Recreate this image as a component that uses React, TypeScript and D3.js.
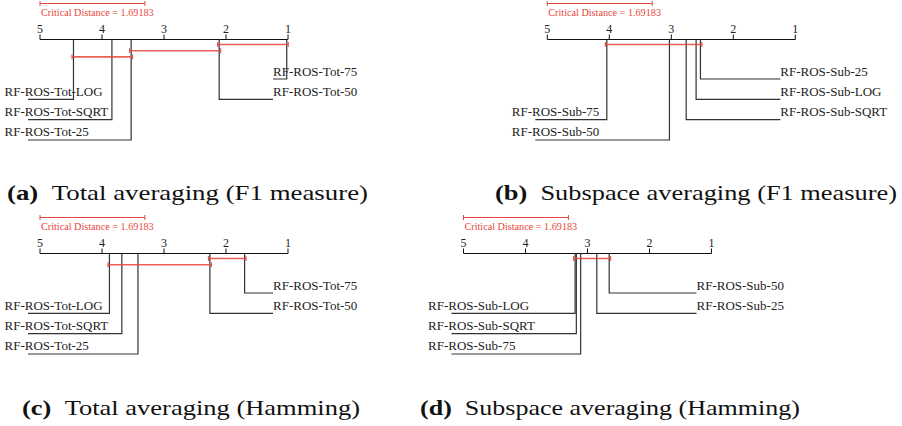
import React, { useEffect, useRef } from 'react';
import * as d3 from 'd3';

// average ranks
const criticalDistance = 1.69183;
const rankTicks = [5, 4, 3, 2, 1];

const namesTotalF1 = ['RF-ROS-Tot-LOG', 'RF-ROS-Tot-SQRT', 'RF-ROS-Tot-25', 'RF-ROS-Tot-50', 'RF-ROS-Tot-75'];
const ranksTotalF1 = [4.46, 3.84, 3.53, 2.11, 1.02];
const cliquesTotalF1 = [[2.11, 1.02], [3.53, 2.11], [4.46, 3.53]];

const namesSubF1 = ['RF-ROS-Sub-75', 'RF-ROS-Sub-50', 'RF-ROS-Sub-SQRT', 'RF-ROS-Sub-LOG', 'RF-ROS-Sub-25'];
const ranksSubF1 = [4.04, 3.03, 2.76, 2.6, 2.53];
const cliquesSubF1 = [[4.04, 2.53]];

const namesTotalHam = ['RF-ROS-Tot-LOG', 'RF-ROS-Tot-SQRT', 'RF-ROS-Tot-25', 'RF-ROS-Tot-50', 'RF-ROS-Tot-75'];
const ranksTotalHam = [3.88, 3.68, 3.42, 2.26, 1.7];
const cliquesTotalHam = [[2.26, 1.7], [3.88, 2.26]];

const namesSubHam = ['RF-ROS-Sub-LOG', 'RF-ROS-Sub-SQRT', 'RF-ROS-Sub-75', 'RF-ROS-Sub-25', 'RF-ROS-Sub-50'];
const ranksSubHam = [3.2, 3.18, 3.11, 2.85, 2.65];
const cliquesSubHam = [[3.2, 2.65]];

const captionLetters = ['(a)', '(b)', '(c)', '(d)'];
const captionTexts = [
  'Total averaging (F1 measure)',
  'Subspace averaging (F1 measure)',
  'Total averaging (Hamming)',
  'Subspace averaging (Hamming)',
];

const RED = '#e8463c';
const SERIF = 'Liberation Serif, Times New Roman, Times, serif';

export default function App() {
  const svgRef = useRef<SVGSVGElement | null>(null);

  useEffect(() => {
    if (!svgRef.current) return;
    const svg = d3.select(svgRef.current);
    svg.selectAll('*').remove();
    svg.attr('width', 902).attr('height', 426).attr('font-family', SERIF);

    const panels = [
      { names: namesTotalF1, ranks: ranksTotalF1, cliques: cliquesTotalF1, x0: 40, y0: 0, capX: 7, capY: 200, capW: 361 },
      { names: namesSubF1, ranks: ranksSubF1, cliques: cliquesSubF1, x0: 547.3, y0: 0, capX: 495, capY: 200, capW: 402 },
      { names: namesTotalHam, ranks: ranksTotalHam, cliques: cliquesTotalHam, x0: 40, y0: 214, capX: 22, capY: 415, capW: 338 },
      { names: namesSubHam, ranks: ranksSubHam, cliques: cliquesSubHam, x0: 463.5, y0: 214, capX: 420, capY: 415, capW: 380 },
    ];

    panels.forEach((p, pi) => {
      const x = d3.scaleLinear().domain([5, 1]).range([0, 248]);
      const axisY = 39.5;
      const g = svg.append('g').attr('transform', `translate(${p.x0},${p.y0})`);

      // critical distance bar
      const cdY = 3.5;
      g.append('line')
        .attr('x1', x(5)).attr('x2', x(5 - criticalDistance))
        .attr('y1', cdY).attr('y2', cdY)
        .attr('stroke', RED).attr('stroke-width', 1);
      [5, 5 - criticalDistance].forEach(v => {
        g.append('line')
          .attr('x1', x(v)).attr('x2', x(v))
          .attr('y1', cdY - 2.5).attr('y2', cdY + 2.5)
          .attr('stroke', RED).attr('stroke-width', 1);
      });
      g.append('text')
        .attr('x', x(5) + 1).attr('y', 16)
        .attr('font-family', SERIF).attr('font-size', 10.2)
        .attr('fill', RED)
        .text(`Critical Distance = ${criticalDistance}`);

      // axis
      g.append('line')
        .attr('x1', x(5)).attr('x2', x(1))
        .attr('y1', axisY).attr('y2', axisY)
        .attr('stroke', '#111').attr('stroke-width', 1.2);
      rankTicks.forEach(t => {
        g.append('line')
          .attr('x1', x(t)).attr('x2', x(t))
          .attr('y1', axisY - 5).attr('y2', axisY)
          .attr('stroke', '#111').attr('stroke-width', 1);
        g.append('text')
          .attr('x', x(t)).attr('y', axisY - 6.5)
          .attr('text-anchor', 'middle')
          .attr('font-family', SERIF).attr('font-size', 12)
          .attr('fill', '#222')
          .text(t);
      });

      // method lines and labels
      const items = p.names.map((n, i) => ({ name: n, rank: p.ranks[i] }));
      const left = items.filter(d => d.rank > 3).sort((a, b) => b.rank - a.rank);
      const right = items.filter(d => d.rank <= 3).sort((a, b) => a.rank - b.rank);
      const rowY = (i: number) => 79 + 20.33 * i;

      left.forEach((d, i) => {
        const y = rowY(4 - left.length + i);
        g.append('path')
          .attr('d', `M${x(d.rank)},${axisY}V${y}H${x(5) - 12}`)
          .attr('fill', 'none').attr('stroke', '#333').attr('stroke-width', 1.2);
        g.append('text')
          .attr('x', x(5) - 35.5).attr('y', y - 3.5)
          .attr('font-family', SERIF).attr('font-size', 13)
          .attr('fill', '#222')
          .text(d.name);
      });
      right.forEach((d, i) => {
        const y = rowY(i);
        g.append('path')
          .attr('d', `M${x(d.rank)},${axisY}V${y}H${x(1) - 15}`)
          .attr('fill', 'none').attr('stroke', '#333').attr('stroke-width', 1.2);
        g.append('text')
          .attr('x', x(1) - 15).attr('y', y - 3.5)
          .attr('font-family', SERIF).attr('font-size', 13)
          .attr('fill', '#222')
          .text(d.name);
      });

      // cliques of methods that are not significantly different
      const cl = [...p.cliques].sort((a, b) => a[1] - b[1]);
      cl.forEach((c, k) => {
        const y = axisY + 5 + 6.2 * k;
        const xa = x(c[0]) - 1.5;
        const xb = x(c[1]) + 1.5;
        g.append('line')
          .attr('x1', xa).attr('x2', xb).attr('y1', y).attr('y2', y)
          .attr('stroke', RED).attr('stroke-width', 1.6).attr('opacity', 0.85);
        [xa, xb].forEach(xx => {
          g.append('line')
            .attr('x1', xx).attr('x2', xx).attr('y1', y - 2.5).attr('y2', y + 2.5)
            .attr('stroke', RED).attr('stroke-width', 1);
        });
      });

      // caption
      const cap = svg.append('text')
        .attr('x', p.capX).attr('y', p.capY)
        .attr('textLength', p.capW).attr('lengthAdjust', 'spacingAndGlyphs')
        .attr('font-family', SERIF).attr('font-size', 22)
        .attr('fill', '#111');
      cap.append('tspan').attr('font-weight', 'bold').text(captionLetters[pi]);
      cap.append('tspan').text('\u00a0\u00a0' + captionTexts[pi]);
    });
  }, []);

  return (
    <div style={{ position: 'absolute', left: 0, top: 0 }}>
      <svg ref={svgRef}></svg>
    </div>
  );
}
